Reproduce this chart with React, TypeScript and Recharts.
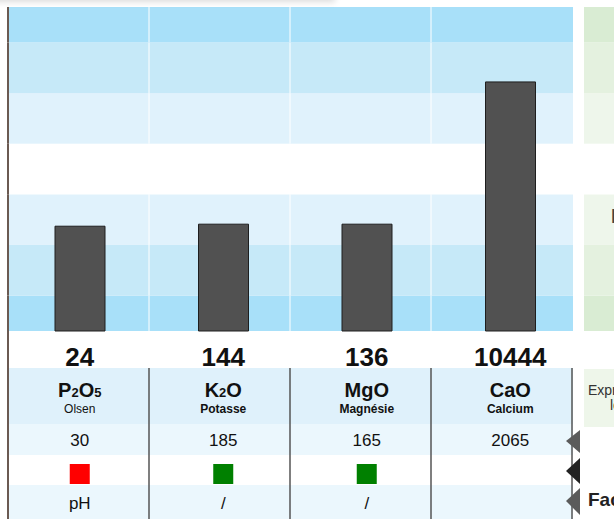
import { BarChart, Bar, XAxis, YAxis, ReferenceArea } from "recharts";

// Soil analysis: index bars with reference bands and a results table below
const elements = ["P2O5", "K2O", "MgO", "CaO"];
const subtitles = ["Olsen", "Potasse", "Magnésie", "Calcium"];
const measured = [24, 144, 136, 10444];
const references = [30, 185, 165, 2065];
const indexValues = [2.07, 2.11, 2.11, 4.92];
const statusColors = ["#ff0000", "#008000", "#008000", ""];
const factors = ["pH", "/", "/", ""];
const bandEdges = [0, 0.7, 1.7, 2.7, 3.7, 4.7, 5.7, 6.4];

const blueBands = ["#a8e0f9", "#c6e9f8", "#e0f2fc", "#ffffff", "#e0f2fc", "#c6e9f8", "#a8e0f9"];
const greenBands = ["#d9ecd3", "#e4f1df", "#eef6eb", "#ffffff", "#eef6eb", "#e4f1df", "#d9ecd3"];
const subtitleBold = [false, true, true, true];
const FONT = "'Liberation Sans', Arial, sans-serif";
const W = 614;
const H = 519;
const MARGIN = { top: 7, right: 41, bottom: 0, left: 9 };
const PLOT_L = MARGIN.left;
const PLOT_R = W - MARGIN.right;
const TABLE_H = 188;
const COLS = elements.length;

const data = elements.map((name, i) => ({ name, index: indexValues[i] }));
const colSeps = Array.from({ length: COLS }, (_, k) => PLOT_L + ((PLOT_R - PLOT_L) * (k + 1)) / COLS);

function Formula({ text }: { text: string }) {
  return (
    <>
      {text
        .split(/(\d)/)
        .filter(Boolean)
        .map((part, k) =>
          /\d/.test(part) ? (
            <tspan key={k} fontSize={13}>{part}</tspan>
          ) : (
            <tspan key={k}>{part}</tspan>
          )
        )}
    </>
  );
}

function ColumnTick(props: any) {
  const { x, y, index } = props;
  const i = index;
  return (
    <g fontFamily={FONT} fill="#111" textAnchor="middle">
      <text x={x} y={y + 35} fontSize={26} fontWeight="bold">{measured[i]}</text>
      <text x={x} y={y + 66} fontSize={20} fontWeight="bold"><Formula text={elements[i]} /></text>
      <text x={x} y={y + 82} fontSize={12} fontWeight={subtitleBold[i] ? "bold" : "normal"}>{subtitles[i]}</text>
      <text x={x} y={y + 115} fontSize={17}>{references[i]}</text>
      {statusColors[i] && <rect x={x - 10} y={y + 133} width={20} height={20} fill={statusColors[i]} />}
      <text x={x} y={y + 178} fontSize={17}>{factors[i]}</text>
    </g>
  );
}

// results table under the plot, drawn from the bottom band's rectangle
function Table({ b }: { b: number }) {
  const x = PLOT_L;
  const r = PLOT_R;
  const width = r - x;
  return (
    <g fontFamily={FONT}>
      <rect x={x} y={b + 37} width={width} height={56} fill="#dff1fb" />
      <rect x={x} y={b + 93} width={width} height={31} fill="#ebf7fd" />
      <rect x={x} y={b + 154} width={width} height={34} fill="#ebf7fd" />
      {colSeps.map((sx, k) => (
        <line key={k} x1={sx - 1} x2={sx - 1} y1={b + 37} y2={b + TABLE_H} stroke="#555" strokeWidth={1.5} />
      ))}
      <line x1={x - 1} x2={x - 1} y1={b} y2={b + TABLE_H} stroke="#6b5a52" strokeWidth={2} />
      <rect x={r + 11} y={b + 38} width={60} height={58} fill="#eef6ea" />
      <text x={r + 15} y={b + 64} fontSize={14} fill="#333">Exprimés en kg/ha</text>
      <text x={r + 37} y={b + 79} fontSize={14} fill="#333">les valeurs</text>
      <polygon points={`${r + 7},${b + 99} ${r - 7},${b + 110} ${r + 7},${b + 122}`} fill="#5b5b5b" />
      <polygon points={`${r + 7},${b + 127} ${r - 7},${b + 140} ${r + 7},${b + 153}`} fill="#222" />
      <polygon points={`${r + 7},${b + 157} ${r - 7},${b + 170} ${r + 7},${b + 184}`} fill="#5b5b5b" />
      <text x={r + 15} y={b + 175} fontSize={19} fontWeight="bold" fill="#222">Facteur limitant</text>
    </g>
  );
}

const bandShape = (i: number) => (p: any) => {
  const { y, height } = p;
  const x = PLOT_L;
  const r = PLOT_R;
  return (
    <g>
      <rect x={x} y={y} width={r - x} height={height} fill={blueBands[i]} />
      <rect x={r + 11} y={y} width={60} height={height} fill={greenBands[i]} />
      {colSeps.slice(0, COLS - 1).map((sx, k) => (
        <line key={k} x1={sx - 1} x2={sx - 1} y1={y} y2={y + height} stroke="#ffffff" strokeWidth={1} />
      ))}
      <line x1={x - 1} x2={x - 1} y1={y} y2={y + height} stroke="#6b5a52" strokeWidth={2} />
      {i === 2 && (
        <text x={r + 38} y={y + 29} fontFamily={FONT} fontSize={20} fontWeight="bold" fill="#444">N</text>
      )}
      {i === 0 && <Table b={y + height} />}
    </g>
  );
};

export default function App() {
  return (
    <div style={{ position: "absolute", left: 0, top: 0, width: W, height: H, overflow: "hidden", background: "#fff" }}>
      <BarChart width={W} height={H} data={data} margin={MARGIN}>
        <YAxis hide domain={[0, 6.4]} />
        {blueBands.map((c, i) => (
          <ReferenceArea key={`b${i}`} xAxisId="cat" y1={bandEdges[i]} y2={bandEdges[i + 1]}
            fill={c} fillOpacity={1} stroke="none" shape={bandShape(i)} />
        ))}
        <Bar xAxisId="cat" dataKey="index" fill="#515151" stroke="#1e1e1e" strokeWidth={1} barSize={50}
          isAnimationActive={false} />
        <XAxis xAxisId="cat" dataKey="name" height={TABLE_H} axisLine={false} tickLine={false}
          tickSize={0} tickMargin={0} interval={0} padding={{ left: -1, right: -9 }}
          tick={(p: any) => <ColumnTick {...p} />} />
      </BarChart>
      <div style={{ position: "absolute", left: -10, top: -12, width: 345, height: 12, background: "#fff",
        boxShadow: "0 2px 6px rgba(0,0,0,0.14)", pointerEvents: "none" }} />
    </div>
  );
}
